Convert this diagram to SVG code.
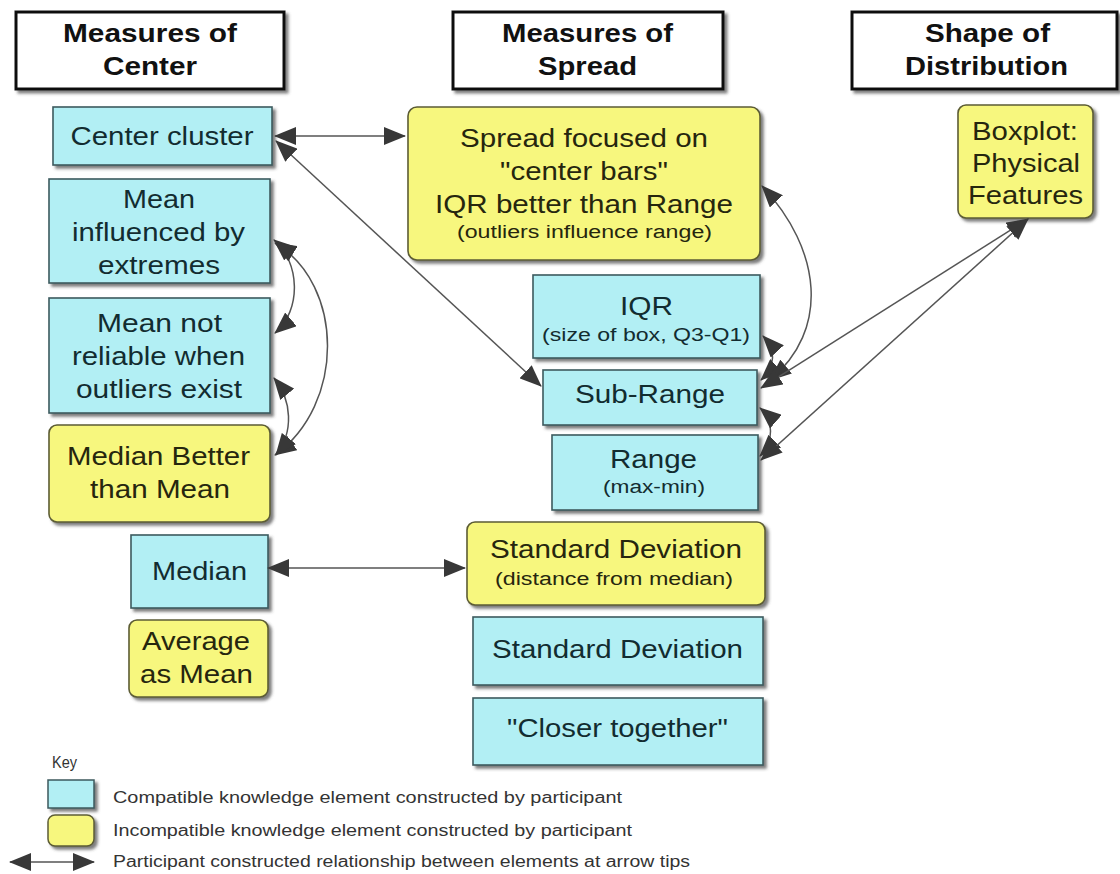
<svg xmlns="http://www.w3.org/2000/svg" width="1120" height="874" viewBox="0 0 1120 874">
<style>
text{font-family:"Liberation Sans",Arial,sans-serif;}
.hd rect{fill:#fff;stroke:#111;stroke-width:3;filter:url(#sh);}
.hd text{font-weight:bold;font-size:25px;fill:#111;text-anchor:middle;}
.cy rect{fill:#b2eff4;stroke:#3c5a5e;stroke-width:1.6;filter:url(#sh);}
.ye rect{fill:#f7f77e;stroke:#5c5c34;stroke-width:1.6;filter:url(#sh);}
.cy text{fill:#122c30;font-size:26px;text-anchor:middle;}
.ye text{fill:#26260e;font-size:26px;text-anchor:middle;}
.cy text.s,.ye text.s{font-size:18px;}
.cn path{fill:none;stroke:#555;stroke-width:1.5;marker-start:url(#ah);marker-end:url(#ah);}
.key text{font-size:16px;fill:#333;}
</style>
<defs>
<filter id="sh" x="-10%" y="-10%" width="130%" height="140%">
<feDropShadow dx="3" dy="3" stdDeviation="1.5" flood-color="#444" flood-opacity="0.7"/>
</filter>
<marker id="ah" viewBox="0 0 22 18" refX="21" refY="9" markerWidth="22" markerHeight="18" markerUnits="userSpaceOnUse" orient="auto-start-reverse">
<path d="M0,0 L22,9 L0,18 z" fill="#383838"/>
</marker>
</defs>
<rect width="1120" height="874" fill="#fff"/>

<g id="hdr-center" class="hd"><rect x="16" y="12" width="268" height="77"/>
<text x="150" y="42" textLength="174" lengthAdjust="spacingAndGlyphs">Measures of</text>
<text x="150" y="75" textLength="94" lengthAdjust="spacingAndGlyphs">Center</text></g>
<g id="hdr-spread" class="hd"><rect x="453" y="12" width="270" height="77"/>
<text x="587.5" y="42" textLength="171" lengthAdjust="spacingAndGlyphs">Measures of</text>
<text x="587.5" y="75" textLength="99" lengthAdjust="spacingAndGlyphs">Spread</text></g>
<g id="hdr-shape" class="hd"><rect x="852" y="12" width="265" height="77"/>
<text x="987.5" y="42" textLength="125" lengthAdjust="spacingAndGlyphs">Shape of</text>
<text x="986.5" y="75" textLength="163" lengthAdjust="spacingAndGlyphs">Distribution</text></g>

<g id="n-center-cluster" class="cy"><rect x="53" y="107" width="219" height="58"/>
<text x="162" y="145" textLength="183" lengthAdjust="spacingAndGlyphs">Center cluster</text></g>
<g id="n-mean-influenced" class="cy"><rect x="49" y="179" width="221" height="104"/>
<text x="159" y="208" textLength="72" lengthAdjust="spacingAndGlyphs">Mean</text>
<text x="158.5" y="241" textLength="173" lengthAdjust="spacingAndGlyphs">influenced by</text>
<text x="159" y="274" textLength="122" lengthAdjust="spacingAndGlyphs">extremes</text></g>
<g id="n-mean-not-reliable" class="cy"><rect x="49" y="298" width="221" height="115"/>
<text x="159.5" y="332" textLength="125" lengthAdjust="spacingAndGlyphs">Mean not</text>
<text x="158.5" y="365" textLength="173" lengthAdjust="spacingAndGlyphs">reliable when</text>
<text x="159" y="398" textLength="166" lengthAdjust="spacingAndGlyphs">outliers exist</text></g>
<g id="n-median-better" class="ye"><rect x="49" y="425" width="221" height="97" rx="8"/>
<text x="158.5" y="465" textLength="183" lengthAdjust="spacingAndGlyphs">Median Better</text>
<text x="160" y="498" textLength="140" lengthAdjust="spacingAndGlyphs">than Mean</text></g>
<g id="n-median" class="cy"><rect x="131" y="535" width="137" height="73"/>
<text x="199.5" y="580" textLength="95" lengthAdjust="spacingAndGlyphs">Median</text></g>
<g id="n-average" class="ye"><rect x="129" y="620" width="139" height="77" rx="8"/>
<text x="196" y="650" textLength="108" lengthAdjust="spacingAndGlyphs">Average</text>
<text x="196.5" y="683" textLength="113" lengthAdjust="spacingAndGlyphs">as Mean</text></g>

<g id="n-spread-focused" class="ye"><rect x="408" y="107" width="352" height="153" rx="9"/>
<text x="584" y="147" textLength="248" lengthAdjust="spacingAndGlyphs">Spread focused on</text>
<text x="584" y="180" textLength="168" lengthAdjust="spacingAndGlyphs">"center bars"</text>
<text x="584" y="213" textLength="298" lengthAdjust="spacingAndGlyphs">IQR better than Range</text>
<text class="s" x="584.5" y="238" textLength="255" lengthAdjust="spacingAndGlyphs">(outliers influence range)</text></g>
<g id="n-iqr" class="cy"><rect x="533" y="275" width="227" height="83"/>
<text x="646.5" y="315" textLength="53" lengthAdjust="spacingAndGlyphs">IQR</text>
<text class="s" x="646" y="341" textLength="208" lengthAdjust="spacingAndGlyphs">(size of box, Q3-Q1)</text></g>
<g id="n-subrange" class="cy"><rect x="543" y="370" width="214" height="55"/>
<text x="650" y="403" textLength="150" lengthAdjust="spacingAndGlyphs">Sub-Range</text></g>
<g id="n-range" class="cy"><rect x="552" y="435" width="206" height="75"/>
<text x="653.5" y="468" textLength="87" lengthAdjust="spacingAndGlyphs">Range</text>
<text class="s" x="654" y="493" textLength="102" lengthAdjust="spacingAndGlyphs">(max-min)</text></g>
<g id="n-sd-median" class="ye"><rect x="467" y="522" width="298" height="83" rx="8"/>
<text x="616" y="558" textLength="252" lengthAdjust="spacingAndGlyphs">Standard Deviation</text>
<text class="s" x="614" y="585" textLength="238" lengthAdjust="spacingAndGlyphs">(distance from median)</text></g>
<g id="n-sd" class="cy"><rect x="473" y="617" width="290" height="68"/>
<text x="617.5" y="658" textLength="251" lengthAdjust="spacingAndGlyphs">Standard Deviation</text></g>
<g id="n-closer" class="cy"><rect x="473" y="698" width="290" height="67"/>
<text x="617.5" y="737" textLength="221" lengthAdjust="spacingAndGlyphs">"Closer together"</text></g>

<g id="n-boxplot" class="ye"><rect x="958" y="105" width="135" height="113" rx="8"/>
<text x="1025" y="140" textLength="106" lengthAdjust="spacingAndGlyphs">Boxplot:</text>
<text x="1026" y="172" textLength="108" lengthAdjust="spacingAndGlyphs">Physical</text>
<text x="1025.5" y="204" textLength="115" lengthAdjust="spacingAndGlyphs">Features</text></g>

<g id="connectors" class="cn">
<path d="M275,136 L405,136"/>
<path d="M276,141 L541,386"/>
<path d="M274,240 C300,262 302,310 275,333"/>
<path d="M275,243 C345,285 345,405 275,455"/>
<path d="M274,378 C292,400 294,432 276,455"/>
<path d="M268,568 L465,568"/>
<path d="M762,186 C822,250 830,330 770,380"/>
<path d="M763,336 C776,350 776,366 761,380"/>
<path d="M760,408 C774,420 774,442 760,456"/>
<path d="M1028,219 L761,388"/>
<path d="M1028,219 L761,460"/>
</g>

<g id="key" class="key">
<text x="52" y="768" textLength="25" lengthAdjust="spacingAndGlyphs">Key</text>
<rect x="48" y="780" width="46" height="28" fill="#b2eff4" stroke="#3c5a5e" stroke-width="1.5" filter="url(#sh)"/>
<rect x="48" y="815" width="46" height="31" rx="7" fill="#f7f77e" stroke="#5c5c34" stroke-width="1.5" filter="url(#sh)"/>
<path d="M10,862 L94,862" fill="none" stroke="#555" stroke-width="1.5" marker-start="url(#ah)" marker-end="url(#ah)"/>
<text x="113" y="803" textLength="509" lengthAdjust="spacingAndGlyphs">Compatible knowledge element constructed by participant</text>
<text x="113" y="836" textLength="519" lengthAdjust="spacingAndGlyphs">Incompatible knowledge element constructed by participant</text>
<text x="113" y="867" textLength="577" lengthAdjust="spacingAndGlyphs">Participant constructed relationship between elements at arrow tips</text>
</g>
</svg>
